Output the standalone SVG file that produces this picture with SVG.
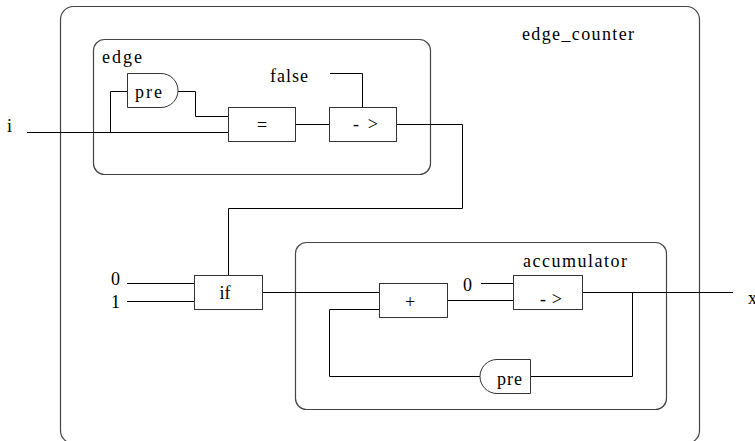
<svg xmlns="http://www.w3.org/2000/svg" width="755" height="441" viewBox="0 0 755 441">
<style>
.box{fill:none;stroke:#444;stroke-width:1.2}
.op{fill:#fff;stroke:#333;stroke-width:1}
.w{fill:none;stroke:#000;stroke-width:1}
text{font-family:'Liberation Serif','Times New Roman',serif;font-size:18px;fill:#000}
.c{text-anchor:middle}
</style>
<rect width="755" height="441" fill="#fff"/>
<g id="edge_counter">
<rect class="box" x="60.5" y="6.5" width="639" height="437" rx="13"/>
<text x="522" y="40" textLength="112" lengthAdjust="spacing">edge_counter</text>
</g>
<g id="edge">
<rect class="box" x="93.5" y="39.5" width="337" height="135" rx="11"/>
<text x="102" y="63" textLength="40" lengthAdjust="spacing">edge</text>
</g>
<g id="accumulator">
<rect class="box" x="295.5" y="242.5" width="371" height="167" rx="11"/>
<text x="523" y="267" textLength="104" lengthAdjust="spacing">accumulator</text>
</g>
<g id="connectors">
<path class="w" d="M27,132.5H228"/>
<path class="w" d="M110.5,132.5V91.5H127"/>
<path class="w" d="M178,91.5H195.5V116.5H228"/>
<path class="w" d="M295,124.5H329"/>
<path class="w" d="M330,73.5H362.5V107"/>
<path class="w" d="M396,124.5H462.5V208.5H228.5V275"/>
<path class="w" d="M127,283.5H194"/>
<path class="w" d="M127,301.5H194"/>
<path class="w" d="M262,292.5H379"/>
<path class="w" d="M447,300.5H513"/>
<path class="w" d="M481,283.5H513"/>
<path class="w" d="M582,292.5H733"/>
<path class="w" d="M632.5,292.5V376.5H530"/>
<path class="w" d="M480,376.5H329.5V309.5H379"/>
</g>
<g id="pre1">
<path class="op" d="M127.5,73.5H161A17,17 0 0 1 161,107.5H127.5Z"/>
<text x="148.5" y="98" textLength="27" lengthAdjust="spacing" class="c">pre</text>
</g>
<g id="eq">
<rect class="op" x="228.5" y="107.5" width="67" height="34"/>
<text x="262" y="131" class="c">=</text>
</g>
<g id="arrow1">
<rect class="op" x="329.5" y="107.5" width="67" height="34"/>
<text x="365.5" y="130" textLength="25" lengthAdjust="spacing" class="c">-&gt;</text>
</g>
<g id="false"><text x="270" y="82" textLength="38" lengthAdjust="spacing">false</text></g>
<g id="if">
<rect class="op" x="194.5" y="275.5" width="68" height="34"/>
<text x="225" y="299" class="c">if</text>
</g>
<g id="plus">
<rect class="op" x="379.5" y="283.5" width="68" height="34"/>
<text x="410" y="308" class="c">+</text>
</g>
<g id="arrow2">
<rect class="op" x="513.5" y="275.5" width="69" height="34"/>
<text x="551" y="305" textLength="22" lengthAdjust="spacing" class="c">-&gt;</text>
</g>
<g id="pre2">
<path class="op" d="M530.5,359.5H497A17,17 0 0 0 497,393.5H530.5Z"/>
<text x="509.5" y="385" textLength="25" lengthAdjust="spacing" class="c">pre</text>
</g>
<g id="labels">
<text x="7" y="132">i</text>
<text x="111" y="285">0</text>
<text x="111" y="308">1</text>
<text x="463" y="291">0</text>
<text x="748" y="304">x</text>
</g>
</svg>
